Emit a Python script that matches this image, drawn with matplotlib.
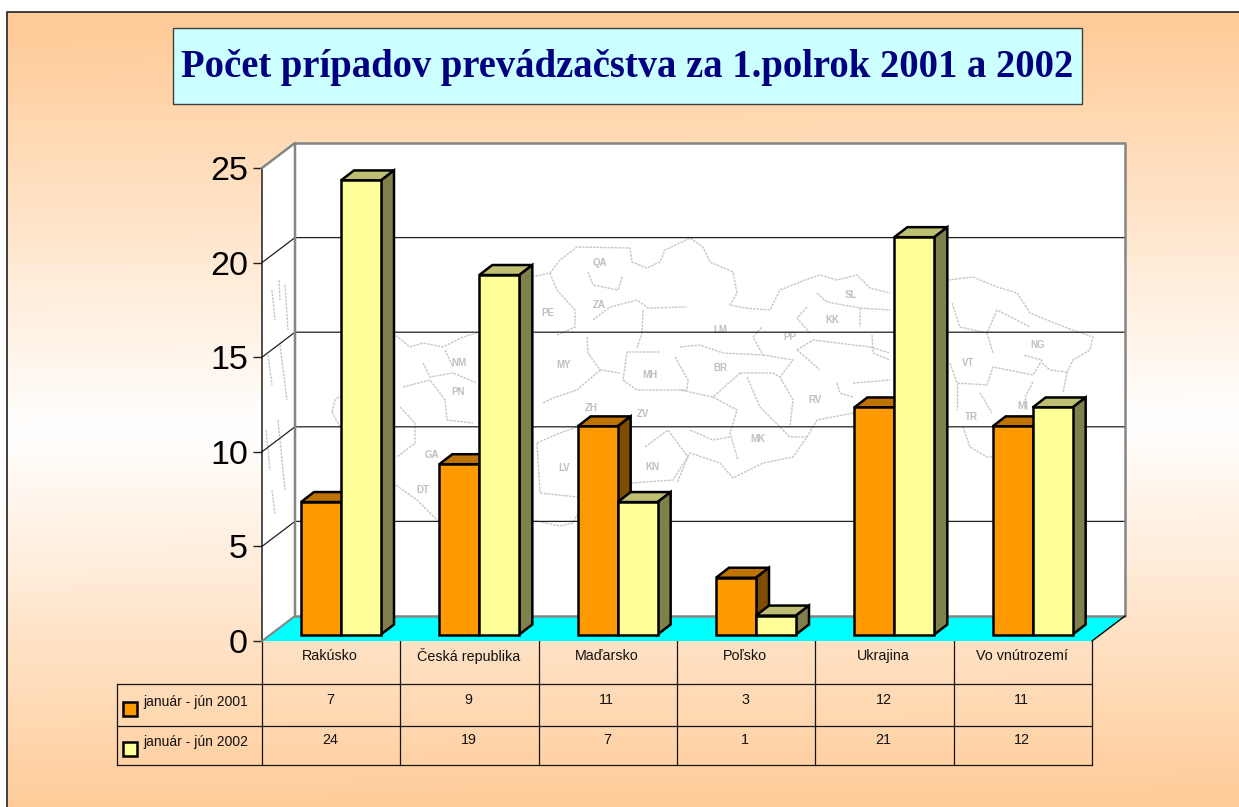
import numpy as np
import matplotlib
matplotlib.use("Agg")
import matplotlib.pyplot as plt
from matplotlib.patches import Polygon, Rectangle

# data
categories = ["Rakúsko", "Česká republika", "Maďarsko", "Poľsko", "Ukrajina", "Vo vnútrozemí"]
jan_jun_2001 = [7, 9, 11, 3, 12, 11]
jan_jun_2002 = [24, 19, 7, 1, 21, 12]
series_names = ["január - jún 2001", "január - jún 2002"]
y_ticks = [0, 5, 10, 15, 20, 25]
title = "Počet prípadov prevádzačstva za 1.polrok 2001 a 2002"

# faint map behind the bars, traced in picture pixels
map_lines = [
    [(332, 412), (335, 400), (340, 396)], [(332, 412), (340, 427)],
    [(393, 333), (410, 347), (423, 343), (443, 347), (463, 337), (477, 333)],
    [(532, 277), (550, 273), (560, 260), (577, 247), (630, 248), (632, 262), (647, 268), (660, 262),
     (665, 250), (690, 238), (703, 247), (710, 262), (733, 272), (737, 293), (730, 305), (745, 308),
     (770, 310), (780, 290), (805, 280), (820, 275), (837, 280), (857, 275), (870, 288), (890, 293)],
    [(948, 280), (973, 277), (997, 287), (1017, 293), (1030, 313), (1047, 320), (1067, 328), (1093, 337),
     (1090, 350), (1073, 360), (1067, 373), (1063, 393)],
    [(963, 427), (970, 447), (987, 457), (993, 457)],
    [(853, 413), (817, 420), (807, 437), (793, 457), (763, 463), (733, 478), (720, 463), (690, 453), (673, 480), (632, 483)],
    [(393, 483), (417, 500), (437, 520), (477, 528)], [(532, 520), (560, 526), (573, 523), (577, 515)],
    [(550, 273), (557, 290), (575, 310), (575, 327), (557, 335)],
    [(588, 272), (593, 285), (618, 290), (622, 277)],
    [(593, 320), (610, 307), (637, 300), (648, 308), (687, 307)],
    [(643, 310), (642, 333), (637, 348)],
    [(587, 337), (588, 353), (600, 370), (577, 390), (553, 398), (543, 403)],
    [(600, 370), (620, 373)], [(660, 352), (627, 352), (623, 380), (637, 390), (687, 390)],
    [(675, 357), (688, 380), (687, 390)],
    [(423, 363), (430, 377), (453, 373), (477, 383)], [(445, 350), (453, 367)],
    [(403, 387), (430, 380), (445, 400), (447, 420), (473, 423)],
    [(400, 407), (415, 423), (415, 443), (397, 457)],
    [(537, 443), (540, 493), (577, 497)], [(537, 443), (560, 433), (577, 427)],
    [(645, 447), (668, 430), (688, 457), (677, 483)],
    [(680, 347), (700, 345), (723, 353), (763, 355), (753, 337), (762, 327)],
    [(763, 355), (793, 360), (780, 377), (793, 400), (790, 427)],
    [(797, 350), (820, 370)], [(797, 350), (813, 340), (870, 347), (890, 353)],
    [(740, 373), (773, 373), (780, 377)], [(740, 373), (713, 397), (680, 390)],
    [(747, 377), (760, 407), (790, 437), (807, 437)],
    [(713, 397), (737, 410), (730, 433), (738, 460)],
    [(690, 430), (713, 440), (730, 437)],
    [(807, 307), (797, 318), (810, 333)],
    [(817, 293), (827, 302), (860, 308), (860, 327)], [(860, 308), (890, 310)],
    [(872, 335), (873, 353), (890, 360)],
    [(837, 383), (840, 393), (853, 397)], [(853, 383), (890, 380)],
    [(950, 363), (957, 383), (987, 385), (993, 367), (1033, 375), (1042, 360), (1023, 355)],
    [(987, 333), (993, 353)], [(957, 383), (957, 410)], [(980, 393), (992, 413)],
    [(1042, 363), (1050, 370), (1067, 372)], [(1033, 382), (1025, 397), (1027, 410)],
    [(952, 303), (960, 327), (987, 333), (997, 310), (1030, 327)],
    # scraps on the side wall
    [(279, 280), (280, 300)], [(272, 290), (275, 320)], [(285, 285), (288, 330)],
    [(268, 355), (272, 385)], [(280, 345), (287, 400)], [(266, 430), (270, 470)],
    [(278, 420), (285, 490)], [(272, 490), (275, 515)],
]
map_labels = [("QA", 600, 263), ("PE", 548, 313), ("ZA", 599, 305), ("NM", 459, 363), ("PN", 458, 392),
              ("GA", 432, 455), ("DT", 423, 490), ("MY", 564, 365), ("ZH", 591, 408), ("ZV", 643, 414),
              ("LV", 564, 468), ("BR", 720, 368), ("KK", 832, 320), ("SL", 851, 295), ("PP", 790, 337),
              ("LM", 720, 330), ("MH", 650, 375), ("VT", 968, 363), ("NG", 1038, 345), ("MI", 1023, 406),
              ("RV", 815, 400), ("MK", 758, 439), ("TR", 971, 417), ("KN", 652, 467)]

fig = plt.figure(figsize=(12.39, 8.07), dpi=100)
plt.rcParams["font.family"] = "Liberation Sans"

# background in picture pixels
bg = fig.add_axes([0, 0, 1, 1])
bg.set_xlim(0, 1239)
bg.set_ylim(807, 0)
bg.axis("off")
yy, xx = np.mgrid[12:807, 7:1239]
u = yy - 12 * (1 - xx / 1239)
frac = np.clip(np.where(u < 420, (420 - u) / 400, (u - 420) / 378), 0, 1)
grad = np.ones(u.shape + (3,))
grad[..., 1] = 1 - frac * (1 - 0.8)
grad[..., 2] = 1 - frac * (1 - 0.6)
bg.imshow(grad, extent=(7, 1239, 807, 12), aspect="auto", zorder=0)
bg.set_xlim(0, 1239)
bg.set_ylim(807, 0)
bg.plot([7, 7, 1239], [807, 12, 12], color="#303030", lw=1.3, zorder=1)

# title box
bg.add_patch(Rectangle((173, 28), 909, 76, facecolor="#CCFFFF", edgecolor="#404040", lw=1, zorder=2))
bg.text(627, 68, title, family="Liberation Serif", weight="bold", color="#000080", fontsize=27.8,
        ha="center", va="center", zorder=3)

# chart axes: front plane of the 3d box
x0, x1, y_top, y_bot = 262, 1092, 168, 641
ax = fig.add_axes([x0 / 1239, 1 - y_bot / 807, (x1 - x0) / 1239, (y_bot - y_top) / 807])
ax.set_xlim(0, len(categories))
ax.set_ylim(0, 25)
ax.patch.set_visible(False)
for s in ["top", "right", "bottom"]:
    ax.spines[s].set_visible(False)
ax.spines["left"].set_color("#303030")
ax.spines["left"].set_linewidth(1.2)
ax.set_xticks([])
ax.set_yticks(y_ticks)
ax.tick_params(axis="y", length=6.5, width=1, color="#202020", labelsize=24.5, pad=3.5)

dx = 33 / ((x1 - x0) / len(categories))
dy = 25 / ((y_bot - y_top) / 25)
n = len(categories)

# walls and floor
ax.add_patch(Polygon([(0, 0), (dx, dy), (dx, 25 + dy), (0, 25)], facecolor="white", edgecolor="none", zorder=1, clip_on=False))
ax.add_patch(Polygon([(dx, dy), (n + dx, dy), (n + dx, 25 + dy), (dx, 25 + dy)], facecolor="white", edgecolor="none", zorder=1, clip_on=False))
for line in map_lines:
    pts = np.array(line)
    ax.plot(pts[:, 0], pts[:, 1], transform=bg.transData, color="#c6c6c6", lw=1, ls=(0, (1.8, 0.8)), zorder=2, clip_on=False)
for name, px, py in map_labels:
    ax.text(px, py, name, transform=bg.transData, color="#c0c0c0", fontsize=7, weight="bold", ha="center", va="center", zorder=2, clip_on=False)
for v in y_ticks[1:-1]:
    ax.plot([0, dx, n + dx], [v, v + dy, v + dy], color="#202020", lw=0.9, zorder=3, clip_on=False)
ax.add_patch(Polygon([(0, 0), (dx, dy), (n + dx, dy), (n, 0)], facecolor="#00FFFF", edgecolor="none", zorder=3, clip_on=False))
ax.plot([0, dx, dx], [25, 25 + dy, dy], color="#858585", lw=1.8, zorder=3, clip_on=False)
ax.plot([dx, n + dx, n + dx, dx], [25 + dy, 25 + dy, dy, dy], color="#858585", lw=1.8, zorder=3, clip_on=False)
ax.plot([0, dx], [0, dy], color="#858585", lw=1.5, zorder=3, clip_on=False)
ax.plot([n, n + dx], [0, dy], color="black", lw=1, zorder=3, clip_on=False)

# 3d bars
bar_w = 40 / ((x1 - x0) / n)
bar_left = 39 / ((x1 - x0) / n)
d0 = 0.26
bdx = 13 / ((x1 - x0) / n)
bdy = 10 / ((y_bot - y_top) / 25)
series = [
    (jan_jun_2001, "#FF9900", "#BF7300", "#7F4D00"),
    (jan_jun_2002, "#FFFF99", "#BFBF73", "#80804D"),
]
z = 4
for i in range(n):
    for j, (vals, front, top, side) in enumerate(series):
        v = vals[i]
        l = i + bar_left + j * bar_w
        r = l + bar_w
        by0 = d0 * dy
        ax.add_patch(Polygon([(l, by0 + v), (l + bdx, by0 + v + bdy), (r + bdx, by0 + v + bdy), (r, by0 + v)],
                             facecolor=top, edgecolor="black", lw=1.8, joinstyle="miter", zorder=z, clip_on=False))
        ax.add_patch(Polygon([(r, by0), (r + bdx, by0 + bdy), (r + bdx, by0 + v + bdy), (r, by0 + v)],
                             facecolor=side, edgecolor="black", lw=1.8, joinstyle="miter", zorder=z, clip_on=False))
        ax.bar(l, v, width=bar_w, bottom=by0, align="edge", color=front, edgecolor="black", lw=1.8, zorder=z + 0.5, clip_on=False)
        z += 1

# data table under the chart
for row in [684, 726, 765]:
    ax.plot([117, x1], [row, row], transform=bg.transData, color="#151515", lw=0.9, zorder=2, clip_on=False)
ax.plot([117, 117], [684, 765], transform=bg.transData, color="#151515", lw=0.9, clip_on=False)
for i in range(n + 1):
    xpix = x0 + i * (x1 - x0) / n
    ax.plot([xpix, xpix], [641, 765], transform=bg.transData, color="#151515", lw=0.9, clip_on=False)
for i, name in enumerate(categories):
    xpix = x0 + (i + 0.5) * (x1 - x0) / n
    ax.text(xpix - 1, 656, name, transform=bg.transData, fontsize=10.3, color="#111111", ha="center", va="center", clip_on=False)
    ax.text(xpix - 1, 700, str(jan_jun_2001[i]), transform=bg.transData, fontsize=10.3, color="#111111", ha="center", va="center", clip_on=False)
    ax.text(xpix - 1, 740, str(jan_jun_2002[i]), transform=bg.transData, fontsize=10.3, color="#111111", ha="center", va="center", clip_on=False)

for name, ly, col in zip(series_names, [702, 742], ["#FF9900", "#FFFF99"]):
    ax.add_patch(Rectangle((123, ly), 14, 14, transform=bg.transData, facecolor=col, edgecolor="black", lw=1.8, clip_on=False))
    ax.text(143, ly, name, transform=bg.transData, fontsize=10, color="#111111", ha="left", va="center", clip_on=False)

fig.savefig("out.png", dpi=100)
